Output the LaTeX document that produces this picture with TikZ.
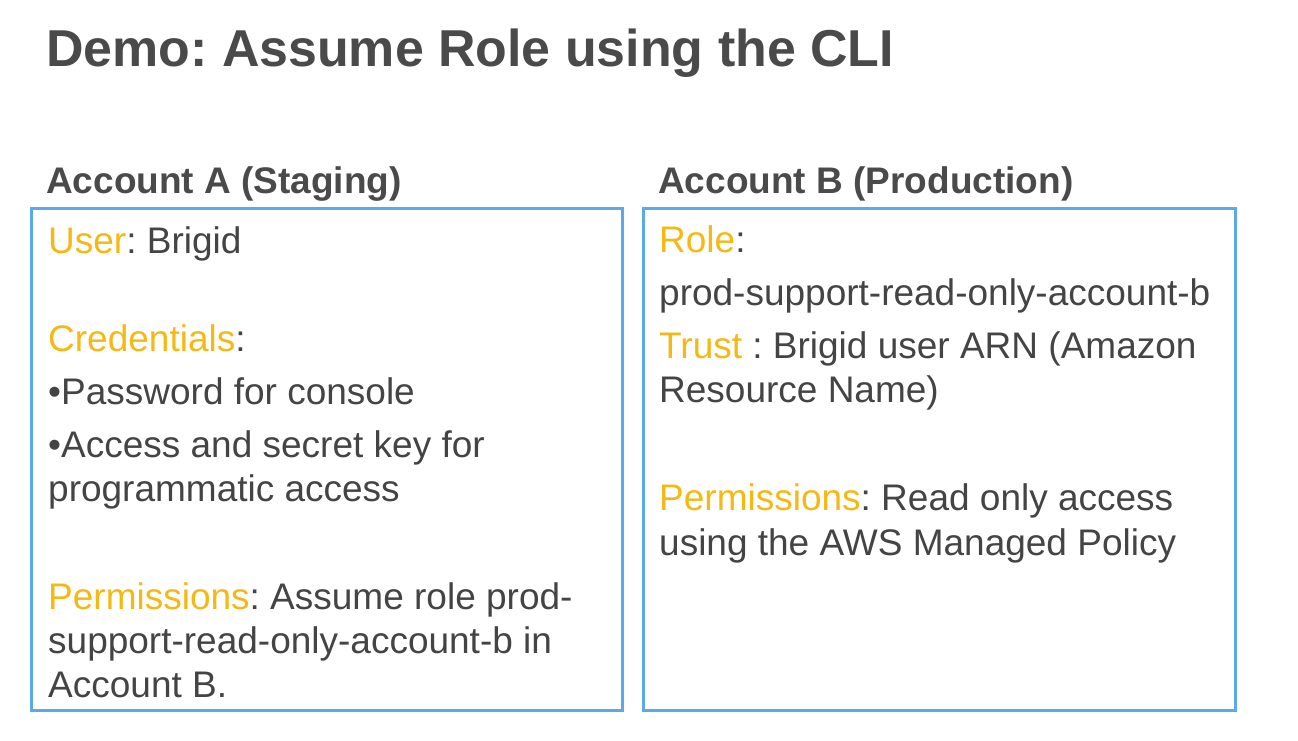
\documentclass[tikz,border=0pt]{standalone}
\usepackage{fontspec}
\setmainfont{Liberation Sans}
\definecolor{txt}{HTML}{444444}
\definecolor{ttl}{HTML}{4A4A4A}
\definecolor{hl}{HTML}{F5B914}
\definecolor{frame}{HTML}{5AA9E8}
\newcommand{\hlt}[1]{\textcolor{hl}{#1}}
\frenchspacing
\begin{document}
\begin{tikzpicture}[x=1pt,y=-1pt,
  title/.style={anchor=base west,inner sep=0pt,text=ttl,font=\fontsize{51.9}{60}\selectfont\bfseries},
  head/.style={anchor=base west,inner sep=0pt,text=ttl,font=\fontsize{37}{44}\selectfont\bfseries},
  body/.style={anchor=base west,inner sep=0pt,text=txt,font=\fontsize{37}{44}\selectfont},
  acctbox/.style={draw=frame,line width=3pt}]
\useasboundingbox (0,0) rectangle (1298,740);
\fill[white] (0,0) rectangle (1298,740);
\node[title] (t) at (46,66) {Demo: Assume Role using the CLI};
\node[head] (ha) at (46,193) {Account A (Staging)};
\node[head] (hb) at (658,193) {Account B (Production)};
\draw[acctbox] (31,208) rectangle (622,710);
\draw[acctbox] (643,208) rectangle (1235,710);
% box A
\node[body] (a1) at (48,253) {\hlt{User}: Brigid};
\node[body] (a2) at (48,351) {\hlt{Credentials}:};
\node[body] (a3) at (48,404) {•Password for console};
\node[body] (a4) at (48,457) {•Access and secret key for};
\node[body] (a5) at (48,501) {programmatic access};
\node[body] (a6) at (48,609) {\hlt{Permissions}: Assume role prod-};
\node[body] (a7) at (48,653) {support-read-only-account-b in};
\node[body] (a8) at (48,697) {Account B.};
% box B
\node[body] (b1) at (659,252) {\hlt{Role}:};
\node[body] (b2) at (659,305) {prod-support-read-only-account-b};
\node[body] (b3) at (659,358) {\hlt{Trust} : Brigid user ARN (Amazon};
\node[body] (b4) at (659,402) {Resource Name)};
\node[body] (b5) at (659,510) {\hlt{Permissions}: Read only access};
\node[body] (b6) at (659,555) {using the AWS Managed Policy};
\end{tikzpicture}
\end{document}
